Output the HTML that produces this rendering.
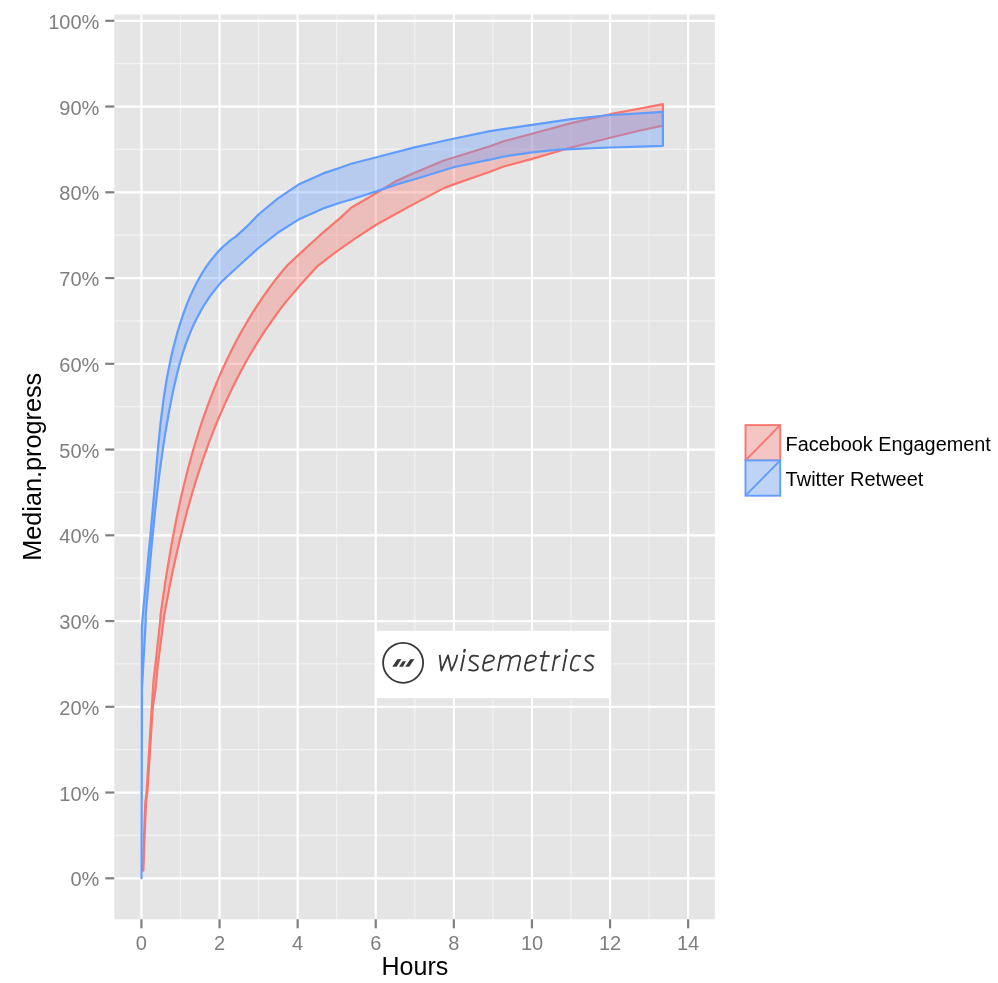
<!DOCTYPE html>
<html><head><meta charset="utf-8"><title>chart</title>
<style>html,body{margin:0;padding:0;background:#fff;}svg{display:block;will-change:transform;}text{font-family:"Liberation Sans",sans-serif;}</style>
</head><body>
<svg width="998" height="983" viewBox="0 0 998 983">
<rect x="0" y="0" width="998" height="983" fill="#ffffff"/>
<rect x="114.3" y="14.5" width="600.6" height="904.8" fill="#E5E5E5"/>
<g stroke="#F2F2F2" stroke-width="1.1">
<line x1="114.3" x2="714.9" y1="835.42" y2="835.42"/>
<line x1="114.3" x2="714.9" y1="749.67" y2="749.67"/>
<line x1="114.3" x2="714.9" y1="663.92" y2="663.92"/>
<line x1="114.3" x2="714.9" y1="578.17" y2="578.17"/>
<line x1="114.3" x2="714.9" y1="492.42" y2="492.42"/>
<line x1="114.3" x2="714.9" y1="406.67" y2="406.67"/>
<line x1="114.3" x2="714.9" y1="320.92" y2="320.92"/>
<line x1="114.3" x2="714.9" y1="235.17" y2="235.17"/>
<line x1="114.3" x2="714.9" y1="149.42" y2="149.42"/>
<line x1="114.3" x2="714.9" y1="63.67" y2="63.67"/>
<line x1="180.50" x2="180.50" y1="14.5" y2="919.3"/>
<line x1="258.60" x2="258.60" y1="14.5" y2="919.3"/>
<line x1="336.70" x2="336.70" y1="14.5" y2="919.3"/>
<line x1="414.80" x2="414.80" y1="14.5" y2="919.3"/>
<line x1="492.90" x2="492.90" y1="14.5" y2="919.3"/>
<line x1="571.00" x2="571.00" y1="14.5" y2="919.3"/>
<line x1="649.10" x2="649.10" y1="14.5" y2="919.3"/>
</g>
<g stroke="#FFFFFF" stroke-width="2.2">
<line x1="114.3" x2="714.9" y1="878.30" y2="878.30"/>
<line x1="114.3" x2="714.9" y1="792.55" y2="792.55"/>
<line x1="114.3" x2="714.9" y1="706.80" y2="706.80"/>
<line x1="114.3" x2="714.9" y1="621.05" y2="621.05"/>
<line x1="114.3" x2="714.9" y1="535.30" y2="535.30"/>
<line x1="114.3" x2="714.9" y1="449.55" y2="449.55"/>
<line x1="114.3" x2="714.9" y1="363.80" y2="363.80"/>
<line x1="114.3" x2="714.9" y1="278.05" y2="278.05"/>
<line x1="114.3" x2="714.9" y1="192.30" y2="192.30"/>
<line x1="114.3" x2="714.9" y1="106.55" y2="106.55"/>
<line x1="114.3" x2="714.9" y1="20.80" y2="20.80"/>
<line x1="141.45" x2="141.45" y1="14.5" y2="919.3"/>
<line x1="219.55" x2="219.55" y1="14.5" y2="919.3"/>
<line x1="297.65" x2="297.65" y1="14.5" y2="919.3"/>
<line x1="375.75" x2="375.75" y1="14.5" y2="919.3"/>
<line x1="453.85" x2="453.85" y1="14.5" y2="919.3"/>
<line x1="531.95" x2="531.95" y1="14.5" y2="919.3"/>
<line x1="610.05" x2="610.05" y1="14.5" y2="919.3"/>
<line x1="688.15" x2="688.15" y1="14.5" y2="919.3"/>
</g>
<polygon points="143.0,870.6 144.0,836.0 145.3,803.0 146.6,792.0 151.8,706.8 153.5,681.0 155.4,664.7 160.2,621.2 160.6,614.6 161.5,608.2 162.4,601.8 163.3,595.5 164.3,589.1 165.2,582.7 166.2,576.3 167.2,569.9 168.3,563.5 169.4,557.1 170.5,550.7 171.6,544.3 172.8,537.8 174.0,531.4 175.2,525.0 176.5,518.6 177.8,512.3 179.2,505.9 180.6,499.5 182.0,493.1 183.5,486.8 185.1,480.4 186.7,474.1 188.3,467.8 190.0,461.5 191.7,455.2 193.5,449.0 195.4,442.7 197.3,436.5 199.2,430.3 201.2,424.1 203.3,417.9 205.5,411.8 207.7,405.7 209.9,399.6 212.3,393.6 214.7,387.6 217.1,381.6 219.7,375.6 222.3,369.7 225.0,363.8 227.8,358.0 230.6,352.1 233.5,346.4 236.5,340.6 239.6,334.9 242.7,329.3 246.0,323.7 249.3,318.1 252.7,312.6 256.2,307.1 259.8,301.7 263.4,296.3 267.2,291.0 271.1,285.7 275.0,280.4 279.1,275.3 283.2,270.2 287.4,265.3 299.6,253.9 320.0,235.2 340.0,218.1 351.2,207.7 376.4,193.0 395.1,181.6 414.6,172.7 443.9,160.5 454.5,157.2 490.0,146.3 504.4,141.0 532.1,133.7 571.1,123.1 610.2,114.2 640.0,108.5 662.9,104.1 662.9,125.6 640.0,130.5 610.2,137.8 571.1,147.5 532.1,158.9 504.4,166.3 490.0,171.8 454.5,184.1 443.9,188.1 414.6,203.6 395.1,214.2 375.8,225.0 354.6,238.9 336.8,251.3 317.8,265.8 299.6,285.7 290.0,297.1 286.1,301.6 282.4,306.4 278.8,311.1 275.3,316.0 271.8,320.9 268.4,325.8 265.0,330.7 261.8,335.7 258.6,340.7 255.4,345.8 252.4,350.9 249.3,356.0 246.4,361.2 243.5,366.4 240.7,371.6 237.9,376.9 235.2,382.2 232.6,387.5 230.0,392.9 227.5,398.2 225.0,403.6 222.6,409.1 220.2,414.5 217.9,420.0 215.6,425.5 213.4,431.1 211.3,436.6 209.1,442.2 207.1,447.8 205.1,453.4 203.1,459.0 201.2,464.7 199.3,470.4 197.5,476.0 195.7,481.7 193.9,487.5 192.2,493.2 190.6,498.9 188.9,504.7 187.3,510.4 185.8,516.2 184.3,522.0 182.8,527.8 181.4,533.6 179.9,539.4 178.6,545.2 177.2,551.0 175.9,556.9 174.6,562.7 173.3,568.5 172.1,574.4 170.9,580.2 169.7,586.0 168.6,591.9 167.5,597.7 166.4,603.5 165.3,609.4 164.2,615.2 163.5,621.2 157.9,664.7 155.5,690.0 152.8,706.8 147.4,792.0 146.0,803.0 144.6,836.0 143.4,870.6" fill="#F8766D" fill-opacity="0.35" stroke="#F8766D" stroke-width="2.2" stroke-linejoin="round"/>
<polygon points="141.5,878.3 141.8,627.0 142.4,620.0 143.0,613.1 143.6,606.2 144.3,599.2 145.0,592.3 145.6,585.3 146.3,578.4 147.0,571.4 147.6,564.5 148.3,557.5 148.9,550.6 149.6,543.6 150.3,536.7 150.9,529.8 151.5,522.8 152.2,515.8 152.8,508.9 153.4,501.9 154.0,495.0 154.6,488.0 155.2,481.1 155.8,474.1 156.4,467.1 157.0,460.2 157.6,453.2 158.2,446.3 158.9,439.3 159.6,432.4 160.3,425.5 161.1,418.6 162.0,411.6 162.9,404.7 163.8,397.8 164.8,391.0 165.9,384.1 167.1,377.2 168.4,370.4 169.8,363.6 171.2,356.8 172.8,350.0 174.5,343.2 176.3,336.5 178.2,329.8 180.3,323.1 182.5,316.4 184.8,309.8 187.3,303.2 190.0,296.7 192.9,290.4 196.0,284.1 199.3,278.0 202.8,272.0 206.6,266.2 210.7,260.6 215.0,255.3 219.6,250.1 224.6,245.3 230.0,240.7 235.8,236.6 247.0,226.4 258.5,214.5 277.7,198.6 299.6,183.9 323.2,173.4 340.0,167.7 351.2,163.7 376.4,157.2 414.6,147.4 454.5,138.5 490.0,131.2 532.1,124.8 571.1,119.1 610.2,115.0 640.0,113.4 662.9,111.9 662.9,145.8 640.0,146.7 610.2,147.5 571.1,149.2 558.1,149.7 532.1,152.4 504.4,156.5 490.0,159.6 454.5,167.0 414.6,179.2 395.1,184.9 376.4,191.4 351.2,199.5 340.0,202.7 323.2,208.4 299.6,218.9 277.7,232.8 258.5,248.0 240.0,264.7 226.4,277.2 222.0,281.4 217.9,286.1 214.0,291.0 210.3,295.9 206.9,300.9 203.6,306.0 200.6,311.3 197.7,316.6 195.0,321.9 192.5,327.4 190.1,332.9 187.9,338.5 185.8,344.2 183.9,349.9 182.0,355.7 180.3,361.5 178.7,367.4 177.2,373.3 175.8,379.2 174.4,385.1 173.1,391.1 171.9,397.1 170.7,403.1 169.5,409.1 168.4,415.1 167.4,421.2 166.3,427.2 165.3,433.2 164.4,439.2 163.4,445.3 162.5,451.3 161.7,457.4 160.8,463.4 160.0,469.5 159.2,475.6 158.5,481.6 157.7,487.7 157.0,493.8 156.3,499.8 155.7,505.9 155.0,512.0 154.4,518.0 153.8,524.1 153.2,530.2 152.6,536.2 152.0,542.3 151.4,548.4 150.9,554.5 150.3,560.5 149.8,566.6 149.3,572.6 148.8,578.7 148.3,584.8 147.8,590.8 147.3,596.9 146.7,602.9 146.2,609.0 145.7,615.0 145.7,621.2 142.0,688.0 141.5,878.3" fill="#619CFF" fill-opacity="0.35" stroke="#619CFF" stroke-width="2.2" stroke-linejoin="round"/>
<rect x="375.2" y="630.9" width="235.1" height="67.1" fill="#ffffff"/>
<circle cx="403.1" cy="662.8" r="20.0" fill="none" stroke="#383838" stroke-width="1.8"/>
<g fill="#383838">
<polygon points="392.3,666.8 396.5,666.8 401.5,658.9 397.3,659.2"/>
<polygon points="399.2,666.8 402.9,666.8 406.0,661.3 402.6,661.3"/>
<polygon points="405.2,666.8 409.2,666.8 414.5,658.9 410.3,659.2"/>
</g>
<g fill="none" stroke="#383838" stroke-width="1.8" stroke-linejoin="round" stroke-linecap="butt">
<path d="M439.7,654.8 L441.4,670.6 L448.0,655.4 L451.4,670.6 C454.5,664.5 457.0,659.5 457.2,654.8"/>
<path d="M460.9,671 L464.2,654.8"/>
<path d="M478.84,656.27 C478.05,656.16 475.33,655.62 474.08,655.62 C472.83,655.62 472.03,655.70 471.32,656.27 C470.61,656.84 469.94,658.24 469.82,659.03 C469.69,659.82 469.36,659.94 470.57,661.03 C471.78,662.12 475.88,664.37 477.09,665.54 C478.30,666.71 477.97,667.30 477.84,668.05 C477.71,668.80 477.12,669.63 476.33,670.05 C475.54,670.47 474.41,670.59 473.08,670.55 C471.75,670.51 469.11,669.92 468.32,669.80"/>
<path d="M484.50,663.10 C485.25,662.90 487.60,662.32 489.00,661.90 C490.40,661.48 492.08,661.32 492.90,660.60 C493.72,659.88 494.17,658.42 493.90,657.60 C493.63,656.78 492.42,655.98 491.30,655.70 C490.18,655.42 488.27,655.38 487.20,655.90 C486.13,656.42 485.45,657.62 484.90,658.80 C484.35,659.98 484.22,661.63 483.90,663.00 C483.58,664.37 483.02,665.85 483.00,667.00 C482.98,668.15 483.20,669.30 483.80,669.90 C484.40,670.50 485.65,670.57 486.60,670.60 C487.55,670.63 488.50,670.42 489.50,670.10 C490.50,669.78 492.08,668.93 492.60,668.70"/>
<path d="M497.9,671 L501.0,654.8"/>
<path d="M500.3,658.7 C502.5,657 505,655.6 507.4,655.6 C510,655.6 510.9,657.2 510.4,659.6 L507.9,671"/>
<path d="M510.3,658.9 C512.5,657 515,655.6 517.2,655.6 C519.7,655.6 520.6,657.2 520.1,659.6 L517.5,671"/>
<path d="M526.50,663.10 C527.25,662.90 529.60,662.32 531.00,661.90 C532.40,661.48 534.08,661.32 534.90,660.60 C535.72,659.88 536.17,658.42 535.90,657.60 C535.63,656.78 534.42,655.98 533.30,655.70 C532.18,655.42 530.27,655.38 529.20,655.90 C528.13,656.42 527.45,657.62 526.90,658.80 C526.35,659.98 526.22,661.63 525.90,663.00 C525.58,664.37 525.02,665.85 525.00,667.00 C524.98,668.15 525.20,669.30 525.80,669.90 C526.40,670.50 527.65,670.57 528.60,670.60 C529.55,670.63 530.50,670.42 531.50,670.10 C532.50,669.78 534.08,668.93 534.60,668.70"/>
<path d="M544.9,651 L541.6,667.6 C541.2,669.8 542,670.4 543.8,670.4 L547.2,670.4"/>
<path d="M539.8,656 L549.7,656"/>
<path d="M552.4,671 L555.5,654.8"/>
<path d="M554.7,658.9 C556.4,657.4 558,656.4 560.4,655.6"/>
<path d="M562.9,671 L566.2,654.8"/>
<path d="M581.05,656.27 C580.38,656.16 578.21,655.53 577.04,655.62 C575.87,655.71 574.88,655.88 574.04,656.78 C573.20,657.68 572.57,659.40 572.03,661.03 C571.49,662.66 570.90,665.17 570.78,666.55 C570.65,667.93 570.82,668.65 571.28,669.30 C571.74,669.95 572.66,670.28 573.54,670.45 C574.42,670.62 575.61,670.49 576.54,670.30 C577.47,670.11 578.71,669.47 579.15,669.30"/>
<path d="M594.33,656.27 C593.70,656.14 591.74,655.52 590.57,655.52 C589.40,655.52 588.13,655.77 587.31,656.27 C586.49,656.77 585.87,657.82 585.66,658.53 C585.45,659.24 585.03,659.44 586.06,660.53 C587.09,661.62 590.69,663.87 591.82,665.04 C592.95,666.21 592.86,666.76 592.82,667.55 C592.78,668.34 592.36,669.30 591.57,669.80 C590.78,670.30 589.44,670.55 588.06,670.55 C586.68,670.55 584.09,669.92 583.30,669.80"/>
</g>
<g fill="none" stroke="#383838" stroke-width="2.3">
<path d="M464.1,652.5 L464.9,648.9"/><path d="M566.1,652.5 L566.9,648.9"/>
</g>
<g stroke="#7F7F7F" stroke-width="2.2">
<line x1="105.3" x2="114.3" y1="878.30" y2="878.30"/>
<line x1="105.3" x2="114.3" y1="792.55" y2="792.55"/>
<line x1="105.3" x2="114.3" y1="706.80" y2="706.80"/>
<line x1="105.3" x2="114.3" y1="621.05" y2="621.05"/>
<line x1="105.3" x2="114.3" y1="535.30" y2="535.30"/>
<line x1="105.3" x2="114.3" y1="449.55" y2="449.55"/>
<line x1="105.3" x2="114.3" y1="363.80" y2="363.80"/>
<line x1="105.3" x2="114.3" y1="278.05" y2="278.05"/>
<line x1="105.3" x2="114.3" y1="192.30" y2="192.30"/>
<line x1="105.3" x2="114.3" y1="106.55" y2="106.55"/>
<line x1="105.3" x2="114.3" y1="20.80" y2="20.80"/>
<line x1="141.45" x2="141.45" y1="919.3" y2="928.3"/>
<line x1="219.55" x2="219.55" y1="919.3" y2="928.3"/>
<line x1="297.65" x2="297.65" y1="919.3" y2="928.3"/>
<line x1="375.75" x2="375.75" y1="919.3" y2="928.3"/>
<line x1="453.85" x2="453.85" y1="919.3" y2="928.3"/>
<line x1="531.95" x2="531.95" y1="919.3" y2="928.3"/>
<line x1="610.05" x2="610.05" y1="919.3" y2="928.3"/>
<line x1="688.15" x2="688.15" y1="919.3" y2="928.3"/>
</g>
<g fill="#7F7F7F" font-size="20px">
<text x="99.3" y="886.3" text-anchor="end">0%</text>
<text x="99.3" y="800.5" text-anchor="end">10%</text>
<text x="99.3" y="714.8" text-anchor="end">20%</text>
<text x="99.3" y="629.0" text-anchor="end">30%</text>
<text x="99.3" y="543.3" text-anchor="end">40%</text>
<text x="99.3" y="457.5" text-anchor="end">50%</text>
<text x="99.3" y="371.8" text-anchor="end">60%</text>
<text x="99.3" y="286.0" text-anchor="end">70%</text>
<text x="99.3" y="200.3" text-anchor="end">80%</text>
<text x="99.3" y="114.5" text-anchor="end">90%</text>
<text x="99.3" y="28.8" text-anchor="end">100%</text>
<text x="141.4" y="950.0" text-anchor="middle">0</text>
<text x="219.5" y="950.0" text-anchor="middle">2</text>
<text x="297.6" y="950.0" text-anchor="middle">4</text>
<text x="375.8" y="950.0" text-anchor="middle">6</text>
<text x="453.8" y="950.0" text-anchor="middle">8</text>
<text x="532.0" y="950.0" text-anchor="middle">10</text>
<text x="610.0" y="950.0" text-anchor="middle">12</text>
<text x="688.1" y="950.0" text-anchor="middle">14</text>
</g>
<text x="414.9" y="975.2" font-size="25px" text-anchor="middle" fill="#000">Hours</text>
<text transform="translate(41.4,466.8) rotate(-90)" font-size="25.25px" text-anchor="middle" fill="#000">Median.progress</text>
<rect x="745.5" y="425.1" width="34.7" height="35.3" fill="#F2F2F2" stroke="#fff" stroke-width="1"/>
<rect x="745.5" y="425.1" width="34.7" height="35.3" fill="#F8766D" fill-opacity="0.35" stroke="#F8766D" stroke-width="1.9"/>
<line x1="745.5" y1="460.4" x2="780.2" y2="425.1" stroke="#F8766D" stroke-width="1.9"/>
<text x="785.6" y="450.5" font-size="20px" fill="#000" textLength="205.2" lengthAdjust="spacingAndGlyphs">Facebook Engagement</text>
<rect x="745.5" y="460.4" width="34.7" height="35.3" fill="#F2F2F2" stroke="#fff" stroke-width="1"/>
<rect x="745.5" y="460.4" width="34.7" height="35.3" fill="#619CFF" fill-opacity="0.35" stroke="#619CFF" stroke-width="1.9"/>
<line x1="745.5" y1="495.7" x2="780.2" y2="460.4" stroke="#619CFF" stroke-width="1.9"/>
<text x="785.6" y="486.2" font-size="20px" fill="#000">Twitter Retweet</text>
</svg></body></html>
